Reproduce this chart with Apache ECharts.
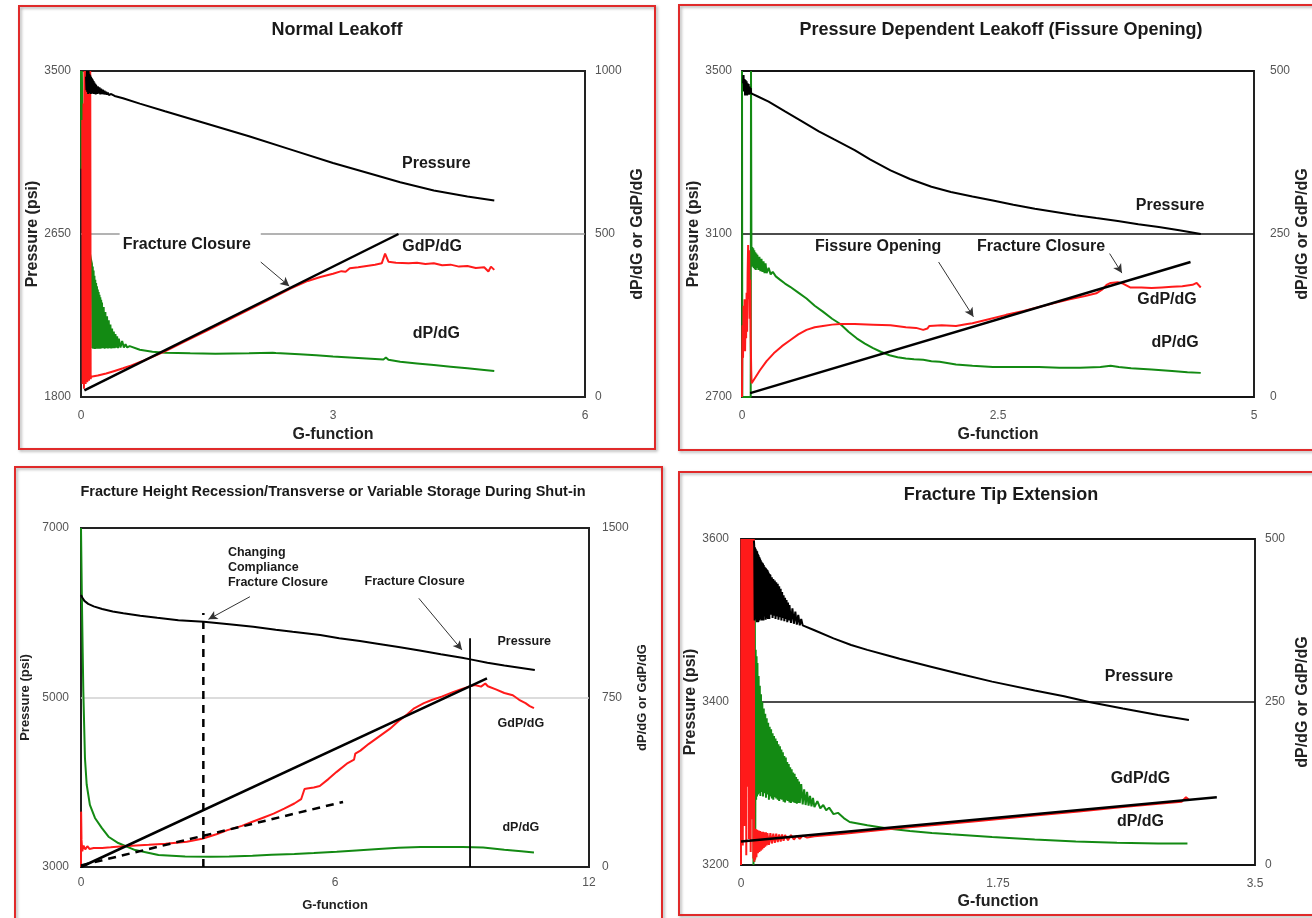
<!DOCTYPE html>
<html><head><meta charset="utf-8">
<script src="https://cdn.jsdelivr.net/npm/echarts@6/dist/echarts.min.js"></script>
<style>html,body{margin:0;padding:0;background:#fff}#c{width:1312px;height:918px}</style>
</head><body><div id="c"></div>
<script>
// ---------------- DATA ----------------
// Panel 1: Normal Leakoff  ([G, value])
const NL_G_TICKS = [0, 3, 6];
const NL_P_TICKS = [1800, 2650, 3500];
const NL_D_TICKS = [0, 500, 1000];
const NL_PRESSURE = [[0.06,3470],[0.065,3400],[0.07,3500],[0.075,3390],[0.08,3490],[0.085,3380],[0.09,3500],[0.095,3395],[0.10,3485],[0.105,3385],[0.11,3478],[0.115,3380],[0.12,3470],[0.125,3390],[0.13,3462],[0.135,3382],[0.14,3455],[0.145,3388],[0.15,3448],[0.155,3380],[0.16,3440],[0.165,3385],[0.17,3433],[0.175,3378],[0.18,3428],[0.19,3380],[0.20,3420],[0.21,3382],[0.22,3414],[0.23,3378],[0.24,3408],[0.25,3380],[0.26,3402],[0.27,3378],[0.28,3397],[0.29,3377],[0.30,3392],[0.31,3376],[0.32,3388],[0.33,3375],[0.34,3384],[0.35,3373],[0.36,3380],[0.37,3372],[0.38,3377],[0.40,3370],[0.42,3368],[0.5,3358],[0.7,3330],[1.0,3290],[1.5,3225],[2.0,3160],[2.5,3090],[3.0,3020],[3.5,2958],[3.8,2920],[4.2,2877],[4.6,2845],[4.92,2825]];
const NL_GDPDG = [[0.015,850],[0.02,40],[0.03,900],[0.035,25],[0.04,1000],[0.045,60],[0.05,1000],[0.055,40],[0.06,1000],[0.065,50],[0.07,1000],[0.075,45],[0.08,1000],[0.085,55],[0.09,1000],[0.095,50],[0.10,1000],[0.105,60],[0.11,1000],[0.115,55],[0.12,62],[0.2,66],[0.3,72],[0.4,80],[0.5,88],[0.6,97],[0.75,112],[1.0,140],[1.25,172],[1.5,204],[1.75,236],[2.0,268],[2.25,300],[2.5,333],[2.7,356],[2.85,368],[3.0,378],[3.1,386],[3.15,384],[3.2,395],[3.3,398],[3.4,402],[3.5,406],[3.58,410],[3.62,440],[3.66,415],[3.75,412],[3.9,410],[4.0,412],[4.1,408],[4.2,410],[4.3,404],[4.4,406],[4.5,400],[4.6,402],[4.7,396],[4.8,398],[4.85,385],[4.88,400],[4.92,390]];
const NL_DPDG = [[0,1000],[0.005,700],[0.01,1000],[0.02,800],[0.04,650],[0.06,560],[0.08,500],[0.1,450],[0.12,420],[0.13,409],[0.135,150],[0.14,400],[0.145,148],[0.15,388],[0.155,150],[0.16,372],[0.165,147],[0.17,360],[0.175,150],[0.18,350],[0.185,148],[0.19,340],[0.195,150],[0.20,330],[0.205,148],[0.21,322],[0.215,150],[0.22,314],[0.225,148],[0.23,306],[0.235,150],[0.24,298],[0.245,149],[0.25,290],[0.26,150],[0.27,276],[0.28,148],[0.29,261],[0.30,150],[0.31,248],[0.32,149],[0.33,235],[0.34,150],[0.35,222],[0.36,149],[0.37,210],[0.38,150],[0.39,201],[0.40,150],[0.41,193],[0.42,151],[0.43,186],[0.44,150],[0.45,179],[0.47,152],[0.49,172],[0.51,152],[0.53,162],[0.55,152],[0.58,156],[0.6,150],[0.7,145],[0.85,139],[1.0,136],[1.3,134],[1.6,133],[2.0,134],[2.28,136],[2.3,141],[2.32,135],[2.6,131],[2.8,128],[3.0,124],[3.2,121],[3.4,118],[3.6,115],[3.63,121],[3.66,114],[3.8,108],[4.0,103],[4.2,98],[4.4,93],[4.6,88],[4.8,83],[4.92,80]];
const NL_TANGENT = [[0.04,20],[3.78,500]];

// Panel 2: Pressure Dependent Leakoff (Fissure Opening)
const PD_G_TICKS = [0, 2.5, 5];
const PD_P_TICKS = [2700, 3100, 3500];
const PD_D_TICKS = [0, 250, 500];
const PD_PRESSURE = [[0.01,3470],[0.015,3490],[0.02,3450],[0.025,3480],[0.03,3440],[0.035,3478],[0.04,3445],[0.045,3475],[0.05,3440],[0.055,3470],[0.06,3445],[0.065,3468],[0.07,3442],[0.075,3462],[0.08,3445],[0.085,3458],[0.09,3445],[0.1,3447],[0.15,3438],[0.26,3425],[0.42,3401],[0.59,3376],[0.75,3352],[0.9,3332],[1.1,3306],[1.25,3283],[1.45,3256],[1.64,3235],[1.85,3216],[2.04,3203],[2.25,3192],[2.45,3182],[2.65,3172],[2.86,3162],[3.06,3154],[3.26,3146],[3.46,3139],[3.67,3132],[3.87,3124],[4.07,3117],[4.27,3109],[4.48,3100]];
const PD_GDPDG = [[0.0,0],[0.005,110],[0.01,60],[0.015,140],[0.02,80],[0.025,150],[0.03,70],[0.035,130],[0.04,90],[0.045,160],[0.05,100],[0.055,190],[0.06,233],[0.065,150],[0.07,225],[0.075,120],[0.08,180],[0.085,90],[0.09,40],[0.094,21],[0.13,30],[0.175,41],[0.24,55],[0.31,67],[0.39,78],[0.47,87],[0.55,96],[0.63,103],[0.71,107],[0.79,109],[0.88,111],[0.96,112],[1.1,112],[1.28,111],[1.45,110],[1.6,107],[1.7,106],[1.77,103],[1.81,105],[1.83,109],[1.95,110],[2.09,109],[2.2,112],[2.25,113],[2.4,119],[2.58,126],[2.75,132],[2.9,138],[3.05,144],[3.2,150],[3.35,155],[3.46,159],[3.52,165],[3.56,172],[3.6,175],[3.67,176],[3.72,174],[3.79,168],[3.9,168],[4.0,167],[4.1,168],[4.2,169],[4.3,170],[4.4,172],[4.44,175],[4.48,168]];
const PD_DPDG = [[0.0,500],[0.003,0],[0.085,0],[0.088,500],[0.092,232],[0.095,215],[0.1,230],[0.105,200],[0.11,228],[0.115,198],[0.12,225],[0.125,196],[0.13,222],[0.135,195],[0.14,220],[0.145,198],[0.15,218],[0.16,195],[0.17,215],[0.18,193],[0.19,212],[0.2,192],[0.21,208],[0.22,190],[0.23,205],[0.24,190],[0.26,198],[0.28,188],[0.30,192],[0.33,185],[0.37,180],[0.42,174],[0.47,169],[0.55,160],[0.63,151],[0.71,140],[0.79,131],[0.88,120],[0.96,112],[1.04,100],[1.12,90],[1.2,82],[1.28,75],[1.36,69],[1.44,64],[1.52,61],[1.6,59],[1.68,58],[1.77,57],[1.85,55],[1.93,54],[2.09,50],[2.25,48],[2.45,46],[2.7,46],[2.9,46],[3.1,45],[3.3,45],[3.5,46],[3.6,48],[3.68,46],[3.8,44],[4.0,42],[4.2,40],[4.35,38],[4.48,37]];
const PD_TANGENT = [[0.08,6],[4.38,207]];

// Panel 3: Fracture Height Recession / Variable Storage
const FH_G_TICKS = [0, 6, 12];
const FH_P_TICKS = [3000, 5000, 7000];
const FH_D_TICKS = [0, 750, 1500];
const FH_PRESSURE = [[0,6209],[0.03,6180],[0.08,6140],[0.17,6105],[0.3,6075],[0.5,6045],[0.75,6015],[1.0,5995],[1.4,5965],[1.8,5940],[2.3,5912],[2.9,5893],[3.5,5865],[4.07,5836],[4.6,5800],[5.0,5775],[5.65,5737],[6.1,5700],[6.59,5667],[7.0,5635],[7.5,5595],[8.0,5555],[8.5,5510],[9.0,5468],[9.2,5450],[9.6,5410],[10.0,5378],[10.4,5348],[10.72,5324]];
const FH_GDPDG = [[0,0],[0.003,245],[0.008,245],[0.012,120],[0.03,70],[0.06,95],[0.1,78],[0.15,92],[0.2,80],[0.3,84],[0.5,84],[0.7,87],[1.0,92],[1.3,95],[1.6,98],[2.0,103],[2.5,112],[2.86,125],[3.2,145],[3.46,163],[3.8,182],[4.05,200],[4.3,218],[4.55,236],[4.8,258],[5.04,281],[5.2,300],[5.28,345],[5.34,347],[5.5,352],[5.64,358],[5.85,390],[6.04,421],[6.3,460],[6.45,475],[6.48,502],[6.6,515],[6.8,545],[7.03,576],[7.3,612],[7.53,650],[7.7,675],[7.87,702],[8.1,725],[8.3,740],[8.52,754],[8.8,775],[9.0,788],[9.17,798],[9.3,805],[9.45,798],[9.55,812],[9.61,800],[9.8,786],[10.0,770],[10.2,760],[10.35,740],[10.5,725],[10.6,712],[10.7,703]];
const FH_DPDG = [[0,1500],[0.02,1200],[0.04,950],[0.055,776],[0.094,480],[0.134,365],[0.21,275],[0.33,217],[0.49,173],[0.65,134],[0.88,106],[1.28,75],[1.83,53],[2.46,46],[3.06,45],[3.5,47],[4.05,50],[4.5,54],[5.04,58],[5.5,62],[6.04,67],[6.5,73],[7.03,80],[7.5,85],[8.02,88],[8.5,89],[9.02,89],[9.5,86],[10.0,76],[10.4,70],[10.7,64]];
const FH_TANGENT = [[0,0],[9.59,835]];
const FH_EARLY_TANGENT = [[0,7],[6.19,288]];
const FH_CC_CLOSURE = [[2.89,0],[2.89,1124]];
const FH_CLOSURE = [[9.19,0],[9.19,1012]];

// Panel 4: Fracture Tip Extension
const TE_G_TICKS = [0, 1.75, 3.5];
const TE_P_TICKS = [3200, 3400, 3600];
const TE_D_TICKS = [0, 250, 500];
const TE_PRESSURE = [[0.088,3598],[0.090,3592],[0.093,3500],[0.095,3590],[0.098,3502],[0.100,3588],[0.103,3505],[0.105,3586],[0.108,3498],[0.110,3585],[0.113,3504],[0.115,3582],[0.118,3498],[0.120,3580],[0.123,3508],[0.125,3578],[0.128,3500],[0.130,3576],[0.133,3502],[0.135,3574],[0.138,3506],[0.140,3572],[0.143,3500],[0.145,3571],[0.148,3506],[0.150,3570],[0.153,3500],[0.155,3568],[0.158,3505],[0.160,3566],[0.163,3507],[0.165,3565],[0.168,3501],[0.170,3564],[0.173,3503],[0.175,3563],[0.178,3506],[0.180,3562],[0.183,3502],[0.185,3560],[0.188,3506],[0.190,3558],[0.193,3502],[0.195,3557],[0.198,3507],[0.200,3556],[0.205,3507],[0.210,3553],[0.215,3503],[0.220,3551],[0.225,3506],[0.230,3549],[0.235,3502],[0.240,3547],[0.245,3505],[0.250,3545],[0.255,3501],[0.260,3542],[0.265,3504],[0.270,3539],[0.275,3500],[0.280,3535],[0.285,3503],[0.290,3531],[0.295,3499],[0.300,3528],[0.305,3502],[0.310,3525],[0.315,3498],[0.320,3522],[0.325,3500],[0.330,3519],[0.340,3497],[0.350,3515],[0.360,3496],[0.370,3511],[0.380,3495],[0.390,3507],[0.400,3494],[0.410,3502],[0.420,3494],[0.5,3488],[0.63,3478],[0.75,3470],[0.86,3464],[1.0,3457],[1.08,3453],[1.3,3443],[1.5,3434],[1.71,3425],[2.0,3414],[2.2,3407],[2.37,3400],[2.6,3392],[2.84,3384],[3.05,3378]];
const TE_GDPDG = [[0,0],[0.003,500],[0.006,150],[0.009,500],[0.012,30],[0.015,500],[0.018,260],[0.021,500],[0.024,60],[0.027,500],[0.03,200],[0.033,500],[0.036,15],[0.039,500],[0.042,120],[0.045,500],[0.048,280],[0.051,500],[0.054,40],[0.057,500],[0.06,180],[0.063,500],[0.066,20],[0.069,500],[0.072,240],[0.075,500],[0.078,70],[0.081,500],[0.084,10],[0.087,500],[0.09,5],[0.092,56],[0.096,8],[0.1,55],[0.105,12],[0.11,54],[0.115,18],[0.12,53],[0.125,20],[0.13,52],[0.135,22],[0.14,51],[0.145,24],[0.15,51],[0.155,26],[0.16,50],[0.165,28],[0.17,50],[0.175,30],[0.18,49],[0.19,31],[0.2,49],[0.21,33],[0.22,48],[0.23,34],[0.24,48],[0.25,35],[0.26,47],[0.27,36],[0.28,47],[0.29,37],[0.3,46],[0.32,38],[0.34,46],[0.36,39],[0.38,45],[0.4,40],[0.42,45],[0.45,42],[0.5,44],[0.7,48],[1.0,55],[1.3,61],[1.6,67],[2.0,76],[2.3,82],[2.6,89],[2.9,95],[3.0,97],[3.03,104],[3.05,100]];
const TE_DPDG = [[0.085,0],[0.088,490],[0.091,5],[0.094,420],[0.097,10],[0.1,330],[0.103,100],[0.106,320],[0.109,105],[0.112,310],[0.116,108],[0.12,290],[0.124,110],[0.128,275],[0.132,106],[0.136,262],[0.14,112],[0.145,250],[0.15,105],[0.155,240],[0.16,110],[0.165,232],[0.17,103],[0.175,225],[0.18,108],[0.185,218],[0.19,100],[0.195,212],[0.2,105],[0.205,208],[0.21,102],[0.215,202],[0.22,100],[0.225,198],[0.23,104],[0.235,194],[0.24,102],[0.245,190],[0.25,100],[0.255,185],[0.26,98],[0.265,182],[0.27,101],[0.275,177],[0.28,100],[0.285,173],[0.29,97],[0.295,167],[0.3,96],[0.305,165],[0.31,99],[0.315,158],[0.32,98],[0.325,155],[0.33,96],[0.335,150],[0.34,95],[0.345,147],[0.35,97],[0.355,142],[0.36,96],[0.365,140],[0.37,95],[0.375,135],[0.38,94],[0.385,132],[0.39,95],[0.395,128],[0.4,95],[0.41,124],[0.42,93],[0.43,116],[0.44,92],[0.45,112],[0.46,91],[0.47,106],[0.48,90],[0.49,103],[0.5,89],[0.52,98],[0.54,87],[0.56,92],[0.58,84],[0.6,88],[0.63,78],[0.66,80],[0.7,72],[0.74,66],[0.86,61],[1.0,56],[1.15,52],[1.3,49],[1.43,47],[1.71,43],[2.0,39],[2.28,36],[2.56,34],[2.84,33],[3.04,33]];
const TE_TANGENT = [[0,36],[3.24,104]];

// ---------------- ANNOTATIONS (data coordinates on the right axis) ----------------
const NL_NOTES = [{t:'Pressure',g:4.23,v:715},{t:'GdP/dG',g:4.18,v:460},{t:'dP/dG',g:4.23,v:193},{t:'Fracture Closure',g:1.26,v:466}];
const NL_ARROWS = [[[2.14,414],[2.48,340]]];
const NL_GRID_SEGMENTS = [[[0,500],[0.46,500]],[[2.14,500],[6,500]]];
const PD_NOTES = [{t:'Pressure',g:4.18,v:293},{t:'GdP/dG',g:4.15,v:149},{t:'dP/dG',g:4.23,v:84},{t:'Fissure Opening',g:1.33,v:230},{t:'Fracture Closure',g:2.92,v:230}];
const PD_ARROWS = [[[1.92,207],[2.26,123]],[[3.59,220],[3.71,190]]];
const FH_NOTES = [{t:'Changing\nCompliance\nFracture Closure',g:3.47,v:1324,left:true},{t:'Fracture Closure',g:7.88,v:1261},{t:'Pressure',g:10.47,v:997},{t:'GdP/dG',g:10.39,v:633},{t:'dP/dG',g:10.39,v:174}];
const FH_ARROWS = [[[3.99,1196],[3.01,1096]],[[7.98,1189],[9.0,960]]];
const TE_NOTES = [{t:'Pressure',g:2.71,v:289},{t:'GdP/dG',g:2.72,v:133},{t:'dP/dG',g:2.72,v:66}];

// ---------------- BUILD ----------------
const FF = "'Liberation Sans', Arial, Helvetica, sans-serif";
const RED = '#ff1a1a', GREEN = '#138a13', BLACK = '#000';

const grids = [
  {left:81, top:71, width:504, height:326},
  {left:742, top:71, width:513, height:326},
  {left:81, top:528, width:508, height:339},
  {left:741, top:539, width:521, height:326}
].map(g => Object.assign({show:true, borderColor:'#222', borderWidth:2, backgroundColor:'transparent'}, g));

const fmt = v => String(v);
function xAx(gi, ticks, gap, size, margin) {
  return {type:'value', gridIndex:gi, min:ticks[0], max:ticks[ticks.length-1], interval:ticks[1]-ticks[0],
    name:'G-function', nameLocation:'middle', nameGap:gap,
    nameTextStyle:{fontFamily:FF, fontSize:size, fontWeight:'bold', color:'#222'},
    axisLine:{show:false}, axisTick:{show:false}, splitLine:{show:false},
    axisLabel:{margin:margin, fontFamily:FF, fontSize:12, color:'#555', formatter:fmt, showMinLabel:true, showMaxLabel:true}};
}
function yAx(gi, ticks, pos, name, gap, size, margin, split) {
  return {type:'value', gridIndex:gi, position:pos, min:ticks[0], max:ticks[ticks.length-1], interval:ticks[1]-ticks[0],
    name:name, nameLocation:'middle', nameGap:gap, nameRotate:90,
    nameTextStyle:{fontFamily:FF, fontSize:size, fontWeight:'bold', color:'#222'},
    axisLine:{show:false}, axisTick:{show:false},
    splitLine: split ? {show:true, lineStyle:split} : {show:false},
    axisLabel:{margin:margin, fontFamily:FF, fontSize:12, color:'#555', formatter:fmt, showMinLabel:true, showMaxLabel:true}};
}

const xAxes = [xAx(0, NL_G_TICKS, 30, 16, 13), xAx(1, PD_G_TICKS, 30, 16, 13), xAx(2, FH_G_TICKS, 32, 13, 10), xAx(3, TE_G_TICKS, 29, 16, 13)];
const RN = 'dP/dG or GdP/dG';
const yAxes = [
  yAx(0, NL_P_TICKS, 'left', 'Pressure (psi)', 40, 16, 10, null),
  yAx(0, NL_D_TICKS, 'right', RN, 45, 16, 10, null),
  yAx(1, PD_P_TICKS, 'left', 'Pressure (psi)', 40, 16, 10, {color:'#111', width:1.5}),
  yAx(1, PD_D_TICKS, 'right', RN, 41, 16, 16, null),
  yAx(2, FH_P_TICKS, 'left', 'Pressure (psi)', 49, 13, 12, null),
  yAx(2, FH_D_TICKS, 'right', RN, 47, 13, 13, null),
  yAx(3, TE_P_TICKS, 'left', 'Pressure (psi)', 39, 16, 12, {color:'#111', width:1.5}),
  yAx(3, TE_D_TICKS, 'right', RN, 40, 16, 10, null)
];

function curve(data, gi, right, color, width, z, extra) {
  return Object.assign({type:'line', data:data, xAxisIndex:gi, yAxisIndex:gi*2 + (right?1:0), showSymbol:false, symbol:'none',
    lineStyle:{color:color, width:width}, clip:true, silent:true, z:z, animation:false}, extra||{});
}
function notes(list, size) {
  return {symbol:'circle', symbolSize:0, silent:true, z:10,
    label:{show:true, position:'inside', fontFamily:FF, fontWeight:'bold', fontSize:size, color:'#1a1a1a', formatter:p => p.name},
    data:list.map(n => ({name:n.t, coord:[n.g, n.v], label: n.left ? {align:'left', lineHeight:15} : {}}))};
}
function arrows(list) {
  return {silent:true, symbol:['none','arrow'], symbolSize:[7,9], z:10, label:{show:false},
    lineStyle:{color:'#333', width:1, type:'solid'},
    data:list.map(a => [{coord:a[0]},{coord:a[1]}])};
}
function hline(segments, color) {
  return {silent:true, symbol:['none','none'], z:1, label:{show:false}, lineStyle:{color:color, width:1.5, type:'solid'},
    data:segments.map(s => [{coord:s[0]},{coord:s[1]}])};
}

const series = [
  // Panel 1
  curve([], 0, true, '#999', 1, 1, {markLine:hline(NL_GRID_SEGMENTS, '#9a9a9a')}),
  curve(NL_DPDG, 0, true, GREEN, 2, 2),
  curve(NL_GDPDG, 0, true, RED, 2, 3),
  curve(NL_PRESSURE, 0, false, BLACK, 2, 4),
  curve(NL_TANGENT, 0, true, BLACK, 2.5, 5, {markPoint:notes(NL_NOTES, 16), markLine:arrows(NL_ARROWS)}),
  // Panel 2
  curve(PD_DPDG, 1, true, GREEN, 2, 2),
  curve(PD_GDPDG, 1, true, RED, 2, 3),
  curve(PD_PRESSURE, 1, false, BLACK, 2, 4),
  curve(PD_TANGENT, 1, true, BLACK, 2.5, 5, {markPoint:notes(PD_NOTES, 16), markLine:arrows(PD_ARROWS)}),
  // Panel 3
  curve([], 2, false, '#ccc', 1, 1, {markLine:hline([[[FH_G_TICKS[0], FH_P_TICKS[1]],[FH_G_TICKS[2], FH_P_TICKS[1]]]], '#d0d0d0')}),
  curve(FH_DPDG, 2, true, GREEN, 2, 2),
  curve(FH_GDPDG, 2, true, RED, 2, 3),
  curve(FH_PRESSURE, 2, false, BLACK, 2, 4),
  curve(FH_TANGENT, 2, true, BLACK, 2.5, 5, {markPoint:notes(FH_NOTES, 12.5), markLine:arrows(FH_ARROWS)}),
  curve(FH_EARLY_TANGENT, 2, true, BLACK, 2.5, 5, {lineStyle:{color:BLACK, width:2.5, type:[8,6]}}),
  curve(FH_CC_CLOSURE, 2, true, BLACK, 2.5, 5, {lineStyle:{color:BLACK, width:2.5, type:[8,6]}}),
  curve(FH_CLOSURE, 2, true, BLACK, 1.8, 5),
  // Panel 4
  curve(TE_DPDG, 3, true, GREEN, 2, 2),
  curve(TE_GDPDG, 3, true, RED, 2, 3),
  curve(TE_PRESSURE, 3, false, BLACK, 2, 4),
  curve(TE_TANGENT, 3, true, BLACK, 2.5, 5, {markPoint:notes(TE_NOTES, 16)})
];

function frame(x, y, w, h) {
  return {type:'rect', shape:{x:x, y:y, width:w, height:h}, silent:true, z:-1,
    style:{fill:'none', stroke:'#e02a2a', lineWidth:2, shadowBlur:3, shadowOffsetX:1.5, shadowOffsetY:1.5, shadowColor:'rgba(0,0,0,0.35)'}};
}
function ttl(text, x, y, size) {
  return {type:'text', x:x, y:y, silent:true, z:20,
    style:{text:text, fill:'#1a1a1a', font:'bold ' + size + 'px ' + FF, align:'center', verticalAlign:'middle', textAlign:'center', textVerticalAlign:'middle'}};
}

const option = {
  animation:false,
  backgroundColor:'#fff',
  grid:grids, xAxis:xAxes, yAxis:yAxes, series:series,
  graphic:[
    frame(19, 6, 636, 443), frame(679, 5, 660, 445), frame(15, 467, 647, 480), frame(679, 472, 660, 443),
    ttl('Normal Leakoff', 337, 30, 18),
    ttl('Pressure Dependent Leakoff (Fissure Opening)', 1001, 30, 18),
    ttl('Fracture Height Recession/Transverse or Variable Storage During Shut-in', 333, 492, 14.5),
    ttl('Fracture Tip Extension', 1001, 495, 18)
  ]
};
const chart = echarts.init(document.getElementById('c'), null, {renderer:'canvas'});
chart.setOption(option);
</script></body></html>
